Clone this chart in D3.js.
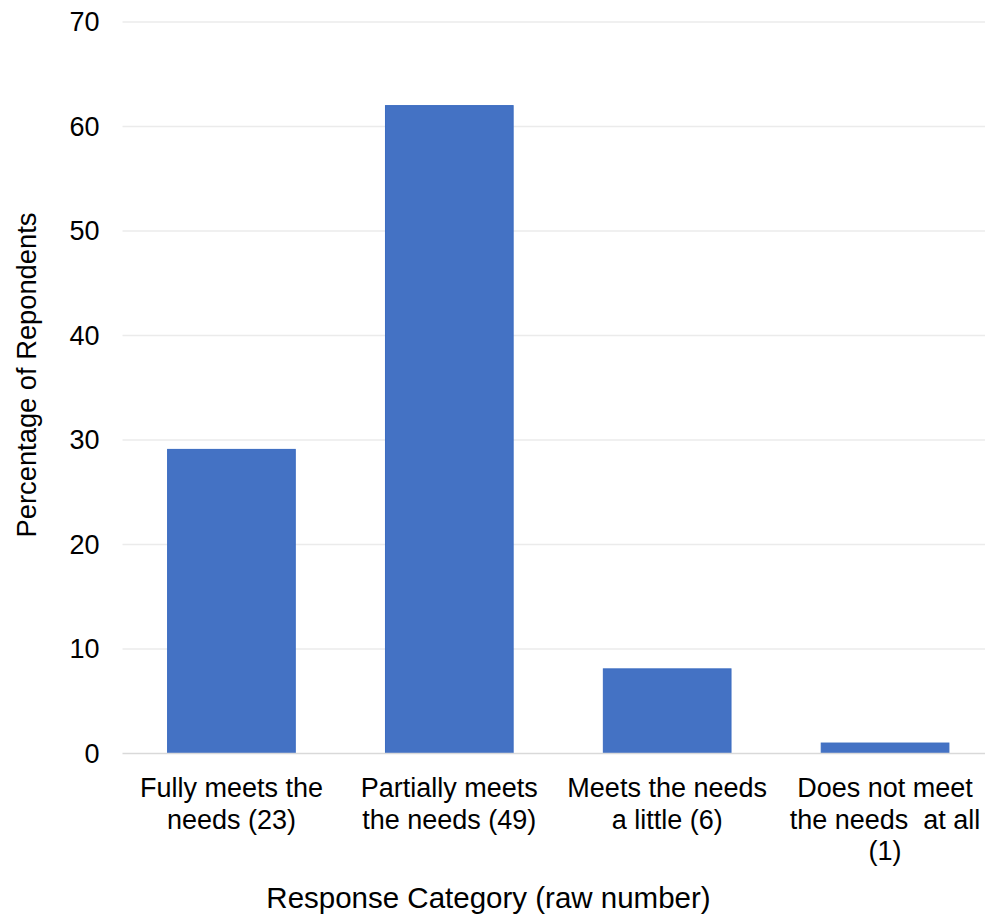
<!DOCTYPE html>
<html>
<head>
<meta charset="utf-8">
<script src="https://cdn.jsdelivr.net/npm/d3@7"></script>
<style>
  html, body { margin: 0; padding: 0; background: #ffffff; }
  svg { display: block; }
  text { font-family: "Liberation Sans", Arial, sans-serif; fill: #000000; }
</style>
</head>
<body>
<svg id="chart" width="985" height="917"></svg>
<script>
// Response categories (each entry is the wrapped lines of its axis label)
const categories = [
  ["Fully meets the", "needs (23)"],
  ["Partially meets", "the needs (49)"],
  ["Meets the needs", "a little (6)"],
  ["Does not meet", "the needs  at all", "(1)"]
];
// Percentage of respondents per category
const percentages = [29.1, 62.0, 8.1, 1.0];
// Y axis ticks
const yTicks = [0, 10, 20, 30, 40, 50, 60, 70];

const svg = d3.select("#chart");
const plot = { left: 122.5, right: 994, top: 22, bottom: 753.5 };

const x = d3.scaleBand()
  .domain(d3.range(categories.length))
  .range([plot.left, plot.right])
  .paddingInner(0.414)
  .paddingOuter(0.207);

const y = d3.scaleLinear()
  .domain([0, 70])
  .range([plot.bottom, plot.top]);

// Horizontal gridlines (the zero line is drawn separately as the baseline)
svg.append("g")
  .selectAll("line")
  .data(yTicks.filter(t => t > 0))
  .join("line")
  .attr("x1", plot.left)
  .attr("x2", plot.right)
  .attr("y1", d => y(d))
  .attr("y2", d => y(d))
  .attr("stroke", "#ebebeb")
  .attr("stroke-width", 1.5);

// Y axis tick labels
const yAxis = d3.axisLeft(y).tickValues(yTicks).tickSize(0).tickPadding(0);
const yg = svg.append("g")
  .attr("transform", `translate(${plot.left - 23},0)`)
  .call(yAxis);
yg.select(".domain").remove();
yg.selectAll("text")
  .attr("font-size", 27)
  .attr("fill", "#000")
  .style("font-family", "'Liberation Sans', Arial, sans-serif");

// Bars
svg.append("g")
  .selectAll("rect")
  .data(percentages)
  .join("rect")
  .attr("x", (d, i) => x(i))
  .attr("width", x.bandwidth())
  .attr("y", d => y(d))
  .attr("height", d => y(0) - y(d))
  .attr("fill", "#4472c4")
  .attr("stroke", "#3b6cc0")
  .attr("stroke-width", 1);

// Baseline
svg.append("line")
  .attr("x1", plot.left)
  .attr("x2", plot.right)
  .attr("y1", y(0))
  .attr("y2", y(0))
  .attr("stroke", "#d9d9d9")
  .attr("stroke-width", 1.5);

// Category labels (multi-line)
const catG = svg.append("g");
categories.forEach((lines, i) => {
  const t = catG.append("text")
    .attr("text-anchor", "middle")
    .attr("font-size", 27)
    .attr("x", x(i) + x.bandwidth() / 2)
    .attr("y", 797);
  lines.forEach((ln, k) => {
    t.append("tspan")
      .attr("x", x(i) + x.bandwidth() / 2)
      .attr("dy", k === 0 ? 0 : 31.5)
      .attr("xml:space", "preserve")
      .style("white-space", "pre")
      .text(ln);
  });
});

// Axis titles
svg.append("text")
  .attr("text-anchor", "middle")
  .attr("font-size", 29.5)
  .attr("x", 488.5)
  .attr("y", 908)
  .text("Response Category (raw number)");

svg.append("text")
  .attr("text-anchor", "middle")
  .attr("font-size", 27.3)
  .attr("transform", "translate(36,375) rotate(-90)")
  .text("Percentage of Repondents");
</script>
</body>
</html>
